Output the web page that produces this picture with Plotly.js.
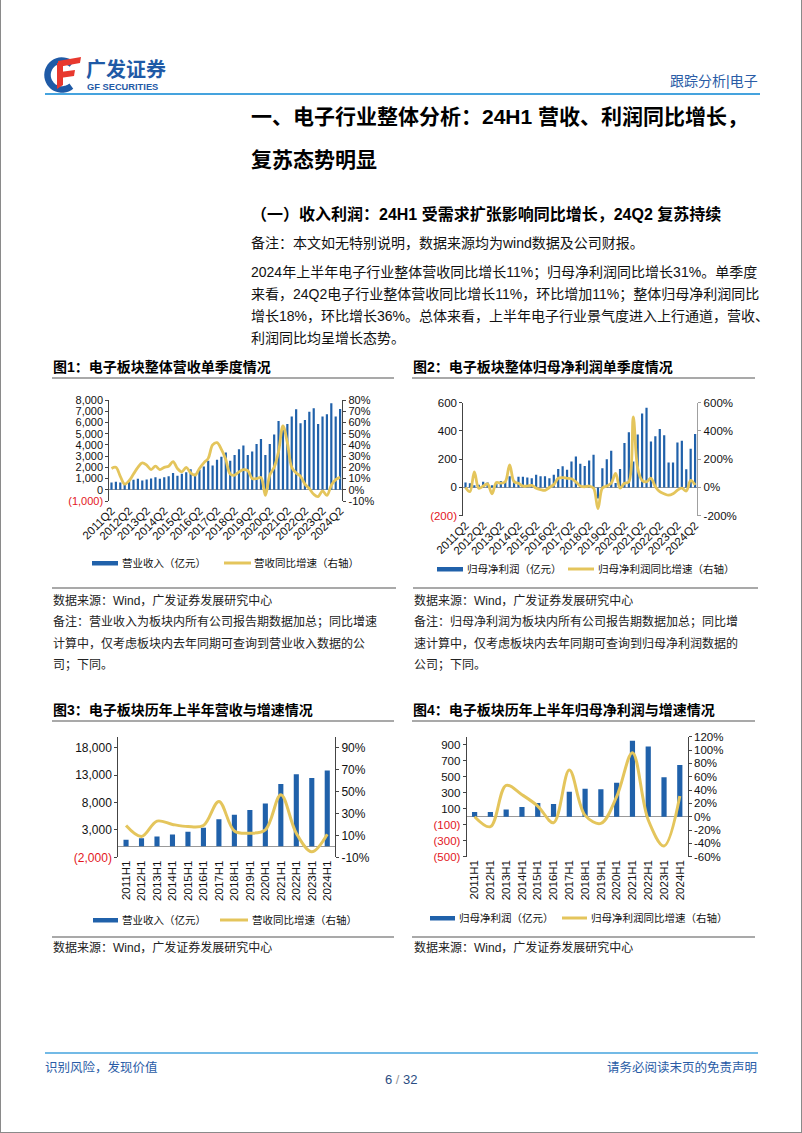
<!DOCTYPE html>
<html><head><meta charset="utf-8">
<script src="https://cdn.plot.ly/plotly-3.0.1.min.js"></script>
<style>html,body{margin:0;padding:0;background:#fff;}#chart{width:802px;height:1133px;}</style>
</head><body><div id="chart"></div>
<script>
// ---------------- DATA ----------------
const quarters = ['2011Q2','2011Q3','2011Q4','2012Q1','2012Q2','2012Q3','2012Q4','2013Q1','2013Q2','2013Q3','2013Q4',
 '2014Q1','2014Q2','2014Q3','2014Q4','2015Q1','2015Q2','2015Q3','2015Q4','2016Q1','2016Q2','2016Q3','2016Q4',
 '2017Q1','2017Q2','2017Q3','2017Q4','2018Q1','2018Q2','2018Q3','2018Q4','2019Q1','2019Q2','2019Q3','2019Q4',
 '2020Q1','2020Q2','2020Q3','2020Q4','2021Q1','2021Q2','2021Q3','2021Q4','2022Q1','2022Q2','2022Q3','2022Q4',
 '2023Q1','2023Q2','2023Q3','2023Q4','2024Q1','2024Q2'];
const quarterRevenue = [650,710,650,550,830,890,980,830,920,1000,1120,980,1120,1210,1500,1240,1420,1570,1840,1420,1780,2070,2580,
 2160,2670,2950,3320,2580,3110,3610,3940,3110,3410,4090,4530,3110,4090,4920,6130,5330,5870,6520,7170,5930,6220,6960,7260,
 5870,6520,6730,7700,6520,7200];
const quarterRevenueYoY = [19,20,12,5,8,14,20,24,22,18,21,18,20,21,25,19,16,20,15,13,19,24,28,40,42,36,27,14,13,16,18,17,10,10,11,
 -5,13,20,34,57,42,20,15,12,5,1,-4,-6,-1,-5,4,9,11];
const quarterProfit = [35,30,15,20,40,35,15,25,45,40,80,50,75,75,70,65,90,80,80,65,90,130,150,125,183,219,167,152,190,231,-79,
 136,200,259,32,131,314,390,183,374,524,564,326,362,414,369,176,176,319,331,129,274,378];
const quarterProfitYoY = [0,-30,110,-5,10,25,-45,35,30,40,160,40,30,10,10,15,-5,-15,-20,0,20,65,70,65,62,40,10,5,10,-5,-150,
 -5,10,30,100,-5,30,40,500,135,50,40,65,5,-30,-45,-55,-45,-20,-5,-25,50,18];

const halfYears = ['2011H1','2012H1','2013H1','2014H1','2015H1','2016H1','2017H1','2018H1','2019H1','2020H1','2021H1','2022H1','2023H1','2024H1'];
const h1Revenue = [1180,1480,1790,2150,2640,3370,4950,5740,6650,7800,11390,13150,12480,13820];
const h1RevenueYoY = [19,9,23,20,18,19,41,14,12,15,47,12,-5,11];
const h1Profit = [58,58,91,120,170,158,311,349,344,423,950,876,494,647];
const h1ProfitYoY = [0,-15,47,33,16,-9,70,2,-10,30,96,-5,-44,31];

// tick labels
const RED = '#E3161D';
const neg = t => '<span style="color:' + RED + '">' + t + '</span>';
const c1LeftVals = [-1000,0,1000,2000,3000,4000,5000,6000,7000,8000];
const c1LeftText = [neg('(1,000)'),'0','1,000','2,000','3,000','4,000','5,000','6,000','7,000','8,000'];
const c1RightVals = [-10,0,10,20,30,40,50,60,70,80];
const c1RightText = ['-10%','0%','10%','20%','30%','40%','50%','60%','70%','80%'];
const c2LeftVals = [-200,0,200,400,600];
const c2LeftText = [neg('(200)'),'0','200','400','600'];
const c2RightVals = [-200,0,200,400,600];
const c2RightText = ['-200%','0%','200%','400%','600%'];
const c3LeftVals = [-2000,3000,8000,13000,18000];
const c3LeftText = [neg('(2,000)'),'3,000','8,000','13,000','18,000'];
const c3RightVals = [-10,10,30,50,70,90];
const c3RightText = ['-10%','10%','30%','50%','70%','90%'];
const c4LeftVals = [-500,-300,-100,100,300,500,700,900];
const c4LeftText = [neg('(500)'),neg('(300)'),neg('(100)'),'100','300','500','700','900'];
const c4RightVals = [-60,-40,-20,0,20,40,60,80,100,120];
const c4RightText = ['-60%','-40%','-20%','0%','20%','40%','60%','80%','100%','120%'];

// ---------------- STYLE / HELPERS ----------------
const W = 802, H = 1133;
const px = x => x / W, py = y => 1 - y / H;
const FONT = '"Liberation Sans", Arial, "Noto Sans CJK SC", sans-serif';
const BLUE = '#2061AA', GOLD = '#E4C55C', HBLUE = '#2A5CA6', LBLUE = '#45A3DE';

function T(text, x, y, size, o) {
  o = o || {};
  return {text: text, x: px(x), y: py(y), xref: 'paper', yref: 'paper', xanchor: o.anchor || 'left', yanchor: 'middle',
    showarrow: false, borderpad: 0, font: {size: size, color: o.color || '#111', family: FONT}};
}
function L(x0, y0, x1, y1, color, w) {
  return {type: 'line', xref: 'paper', yref: 'paper', x0: px(x0), y0: py(y0), x1: px(x1), y1: py(y1), line: {color: color, width: w}};
}
function R(x0, y0, x1, y1, color) {
  return {type: 'rect', xref: 'paper', yref: 'paper', x0: px(x0), y0: py(y0), x1: px(x1), y1: py(y1), fillcolor: color, line: {width: 0}};
}
function P(pts, close, fill, lineColor, lw) {
  const d = pts.map((p, i) => (i ? 'L' : 'M') + px(p[0]).toFixed(5) + ',' + py(p[1]).toFixed(5)).join(' ') + (close ? ' Z' : '');
  return {type: 'path', xref: 'paper', yref: 'paper', path: d, fillcolor: fill || 'rgba(0,0,0,0)', line: {color: lineColor || 'rgba(0,0,0,0)', width: lw || 0}};
}

function xCat(l, r, anchor, vals, angle, fs) {
  return {domain: [px(l), px(r)], anchor: anchor, type: 'category', tickmode: 'array', tickvals: vals, tickangle: angle,
    tickfont: {size: fs, color: '#111', family: FONT}, showline: false, showgrid: false, zeroline: false, ticks: '', fixedrange: true};
}
function yLeft(t, b, anchor, range, vals, text, lineColor, fs) {
  return {domain: [py(b), py(t)], anchor: anchor, range: range, tickmode: 'array', tickvals: vals, ticktext: text,
    tickfont: {size: fs, color: '#111', family: FONT}, showline: true, linecolor: lineColor, linewidth: 1, ticks: 'outside',
    ticklen: 3, tickcolor: lineColor, showgrid: false, zeroline: true, zerolinecolor: '#9a9a9a', zerolinewidth: 1, fixedrange: true};
}
function yRight(over, anchor, range, vals, text, lineColor, fs) {
  return {overlaying: over, side: 'right', anchor: anchor, range: range, tickmode: 'array', tickvals: vals, ticktext: text,
    tickfont: {size: fs, color: '#111', family: FONT}, showline: true, linecolor: lineColor, linewidth: 1, ticks: 'outside',
    ticklen: 3, tickcolor: lineColor, showgrid: false, zeroline: false, fixedrange: true};
}
const every4 = quarters.filter((q, i) => i % 4 === 0);
const lineStyle = w => ({color: GOLD, width: w, shape: 'spline', smoothing: 1});

// ---------------- TRACES ----------------
const data = [
  {type: 'bar', x: quarters, y: quarterRevenue, xaxis: 'x', yaxis: 'y', marker: {color: BLUE}, width: 0.5},
  {type: 'scatter', mode: 'lines', x: quarters, y: quarterRevenueYoY, xaxis: 'x', yaxis: 'y2', line: lineStyle(2.8)},
  {type: 'bar', x: quarters, y: quarterProfit, xaxis: 'x2', yaxis: 'y3', marker: {color: BLUE}, width: 0.5},
  {type: 'scatter', mode: 'lines', x: quarters, y: quarterProfitYoY, xaxis: 'x2', yaxis: 'y4', line: lineStyle(2.8)},
  {type: 'bar', x: halfYears, y: h1Revenue, xaxis: 'x3', yaxis: 'y5', marker: {color: BLUE}, width: 0.33},
  {type: 'scatter', mode: 'lines', x: halfYears, y: h1RevenueYoY, xaxis: 'x3', yaxis: 'y6', line: lineStyle(3)},
  {type: 'bar', x: halfYears, y: h1Profit, xaxis: 'x4', yaxis: 'y7', marker: {color: BLUE}, width: 0.33},
  {type: 'scatter', mode: 'lines', x: halfYears, y: h1ProfitYoY, xaxis: 'x4', yaxis: 'y8', line: lineStyle(3)}
];

// ---------------- TEXT ----------------
const ann = [
  T('<b>广发证券</b>', 85, 70, 20, {color: '#1F5AA6'}),
  T('<b>GF SECURITIES</b>', 86, 87, 9.3, {color: '#1F5AA6'}),
  T('跟踪分析|电子', 759, 81, 14, {anchor: 'right', color: HBLUE}),
  T('<b>一、电子行业整体分析：24H1 营收、利润同比增长，</b>', 250, 116, 21, {color: '#000'}),
  T('<b>复苏态势明显</b>', 250, 159, 21, {color: '#000'}),
  T('<b>（一）收入利润：24H1 受需求扩张影响同比增长，24Q2 复苏持续</b>', 250, 214, 16, {color: '#000'}),
  T('备注：本文如无特别说明，数据来源均为wind数据及公司财报。', 250, 243, 14),
  T('2024年上半年电子行业整体营收同比增长11%；归母净利润同比增长31%。单季度', 250, 272, 14),
  T('来看，24Q2电子行业整体营收同比增长11%，环比增加11%；整体归母净利润同比', 250, 294, 14),
  T('增长18%，环比增长36%。总体来看，上半年电子行业景气度进入上行通道，营收、', 250, 316, 14),
  T('利润同比均呈增长态势。', 250, 338, 14),

  T('<b>图1：电子板块整体营收单季度情况</b>', 52, 367, 14, {color: '#000'}),
  T('<b>图2：电子板块整体归母净利润单季度情况</b>', 412, 367, 14, {color: '#000'}),
  T('<b>图3：电子板块历年上半年营收与增速情况</b>', 52, 710, 14, {color: '#000'}),
  T('<b>图4：电子板块历年上半年归母净利润与增速情况</b>', 412, 710, 14, {color: '#000'}),

  T('营业收入（亿元）', 121, 563, 10.5),
  T('营收同比增速（右轴）', 253, 563, 10.5),
  T('归母净利润（亿元）', 466, 569, 10.5),
  T('归母净利润同比增速（右轴）', 597, 569, 10.5),
  T('营业收入（亿元）', 121, 920, 10.5),
  T('营收同比增速（右轴）', 251, 920, 10.5),
  T('归母净利润（亿元）', 458, 918, 10.5),
  T('归母净利润同比增速（右轴）', 590, 918, 10.5),

  T('数据来源：Wind，广发证券发展研究中心', 52, 600, 12, {color: '#222'}),
  T('备注：营业收入为板块内所有公司报告期数据加总；同比增速', 52, 621, 12, {color: '#222'}),
  T('计算中，仅考虑板块内去年同期可查询到营业收入数据的公', 52, 643, 12, {color: '#222'}),
  T('司；下同。', 52, 665, 12, {color: '#222'}),
  T('数据来源：Wind，广发证券发展研究中心', 413, 600, 12, {color: '#222'}),
  T('备注：归母净利润为板块内所有公司报告期数据加总；同比增', 413, 621, 12, {color: '#222'}),
  T('速计算中，仅考虑板块内去年同期可查询到归母净利润数据的', 413, 643, 12, {color: '#222'}),
  T('公司；下同。', 413, 665, 12, {color: '#222'}),
  T('数据来源：Wind，广发证券发展研究中心', 52, 947, 12, {color: '#222'}),
  T('数据来源：Wind，广发证券发展研究中心', 413, 947, 12, {color: '#222'}),

  T('识别风险，发现价值', 44, 1067, 12.5, {color: HBLUE}),
  T('请务必阅读末页的免责声明', 758, 1067, 12.5, {anchor: 'right', color: HBLUE}),
  T('6 <span style="color:#999">/</span> 32', 401, 1079, 13, {anchor: 'center', color: '#2B4C82'})
];

// ---------------- SHAPES ----------------
const arc = [];
for (let k = 0; k <= 30; k++) {
  const a = (-48 - k * 262 / 30) * Math.PI / 180;
  arc.push([62 + 14.5 * Math.cos(a), 75 + 14.5 * Math.sin(a)]);
}
const shapes = [
  P(arc, false, null, '#1F5AA6', 6.5),
  P([[58, 61], [81, 57], [80, 63], [58, 67]], true, '#E8382E'),
  P([[57, 63], [63, 63], [63, 85], [57, 89]], true, '#E8382E'),
  P([[60, 72], [75, 70], [74, 76], [60, 78]], true, '#E8382E'),
  L(45, 94, 760, 94, LBLUE, 2),
  L(45, 1053, 758, 1053, LBLUE, 1.5),
  L(52, 378, 394, 378, '#8c8c8c', 1.6),
  L(412, 378, 755, 378, '#8c8c8c', 1.6),
  L(52, 721, 394, 721, '#8c8c8c', 1.6),
  L(412, 721, 755, 721, '#8c8c8c', 1.6),
  L(52, 588, 396, 588, '#8c8c8c', 1.6),
  L(413, 588, 758, 588, '#8c8c8c', 1.6),
  L(52, 937, 394, 937, '#8c8c8c', 1.6),
  L(412, 937, 755, 937, '#8c8c8c', 1.6),
  R(92, 561, 118, 565.5, BLUE), L(224, 563, 251, 563, GOLD, 3),
  R(437, 567, 463, 571.5, BLUE), L(568, 569, 594, 569, GOLD, 3),
  R(93, 918, 118, 922.5, BLUE), L(220, 920, 248, 920, GOLD, 3),
  R(430, 916, 455, 920.5, BLUE), L(562, 918, 587, 918, GOLD, 3),
  L(0.5, 0, 0.5, 1133, '#8a8a8a', 1),
  L(801.5, 0, 801.5, 1133, '#8a8a8a', 1),
  L(0, 1132.5, 802, 1132.5, '#8a8a8a', 1)
];

const layout = {
  width: W, height: H, margin: {l: 0, r: 0, t: 0, b: 0, pad: 0},
  paper_bgcolor: '#fff', plot_bgcolor: 'rgba(0,0,0,0)', showlegend: false,
  font: {family: FONT, size: 11, color: '#111'},
  xaxis: xCat(109.3, 342.3, 'y', every4, -45, 11.5),
  yaxis: yLeft(400, 501, 'x', [-1000, 8000], c1LeftVals, c1LeftText, '#444', 11),
  yaxis2: yRight('y', 'x', [-10, 80], c1RightVals, c1RightText, '#444', 11),
  xaxis2: xCat(463.3, 697.3, 'y3', every4, -45, 11.5),
  yaxis3: yLeft(402.7, 515.7, 'x2', [-200, 600], c2LeftVals, c2LeftText, '#444', 11.5),
  yaxis4: yRight('y3', 'x2', [-200, 600], c2RightVals, c2RightText, '#a0a0a0', 11.5),
  xaxis3: xCat(118.3, 335, 'y5', halfYears, -90, 11.5),
  yaxis5: yLeft(736.7, 857.3, 'x3', [-2000, 20000], c3LeftVals, c3LeftText, '#444', 12),
  yaxis6: yRight('y5', 'x3', [-10, 100], c3RightVals, c3RightText, '#444', 12),
  xaxis4: xCat(466.7, 687.7, 'y7', halfYears, -90, 11.5),
  yaxis7: yLeft(736.7, 856.7, 'x4', [-500, 1000], c4LeftVals, c4LeftText, '#444', 11.5),
  yaxis8: yRight('y7', 'x4', [-60, 120], c4RightVals, c4RightText, '#444', 11.5),
  annotations: ann,
  shapes: shapes
};

Plotly.newPlot('chart', data, layout, {displayModeBar: false, staticPlot: true});
</script>
</body></html>
